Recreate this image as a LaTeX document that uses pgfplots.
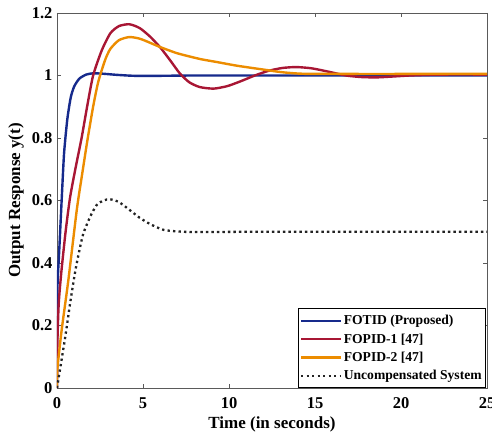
\documentclass[border=0pt]{standalone}
\usepackage{fontspec}
\setmainfont{Liberation Serif}
\usepackage{pgfplots}
\pgfplotsset{compat=1.18}
\definecolor{cblue}{RGB}{22,42,140}
\definecolor{cred}{RGB}{168,22,52}
\definecolor{corange}{RGB}{236,140,0}
\definecolor{cdot}{RGB}{35,35,35}
\definecolor{caxis}{RGB}{90,90,90}
\begin{document}
\begin{tikzpicture}
\begin{axis}[
  scale only axis, width=430pt, height=375pt,
  at={(0,0)}, anchor=south west,
  xmin=0, xmax=25, ymin=0, ymax=1.2,
  xtick={0,5,10,15,20,25},
  ytick={0,0.2,0.4,0.6,0.8,1,1.2},
  yticklabels={0,0.2,0.4,0.6,0.8,1,1.2},
  xticklabels={0,5,10,15,20,25},
  tick align=inside, tick pos=both,
  major tick length=4pt,
  axis line style={caxis, line width=0.7pt},
  every tick/.style={caxis, line width=0.7pt},
  ticklabel style={font=\fontsize{16.5}{18}\selectfont\bfseries},
  /pgf/number format/assume math mode=true,
  xticklabel style={yshift=-6pt},
  yticklabel style={xshift=-1pt},
  xlabel={Time (in seconds)}, ylabel={Output Response y(t)},
  label style={font=\fontsize{17}{19}\selectfont\bfseries},
  xlabel style={at={(axis description cs:0.5,0)}, anchor=center, yshift=-36pt},
  ylabel style={at={(axis description cs:-0.0953,0.5)}, anchor=center},
  legend cell align=left,
  legend style={at={(1,0)}, anchor=south east, xshift=-1.5pt,
    draw=black, line width=0.6pt, font=\fontsize{13.6}{15}\selectfont\bfseries,
    row sep=3.4pt, inner xsep=2pt, inner ysep=4.5pt,
    nodes={inner xsep=1.5pt}},
  legend image code/.code={\draw[#1] (0pt,0pt) -- (40pt,0pt);},
]
\addplot[cblue, line width=2.4pt, smooth, tension=0.4] coordinates {
(0,0)(0.005,0.2)(0.03,0.33)(0.13,0.44)(0.27,0.6)(0.41,0.75)(0.6,0.86)(0.8,0.93)(1.0,0.965)(1.3,0.99)(1.7,1.003)(2.1,1.007)(2.6,1.006)(3.5,1.002)(4.5,0.999)(6,0.999)(8,1.0)(12,1.0)(25,1.0)};
\addlegendentry{FOTID (Proposed)}
\addplot[cred, line width=2.4pt, smooth, tension=0.4] coordinates {
(0,0)(0.02,0.14)(0.1,0.27)(0.25,0.37)(0.5,0.5)(0.76,0.61)(1.1,0.71)(1.43,0.8)(1.75,0.9)(2.1,1.0)(2.6,1.08)(3.1,1.135)(3.6,1.158)(4.2,1.164)(4.8,1.152)(5.4,1.125)(6,1.09)(6.6,1.047)(7.15,1.006)(7.7,0.978)(8.3,0.963)(9.1,0.958)(9.9,0.966)(10.7,0.982)(11.5,1.0)(12.3,1.015)(13.1,1.024)(13.9,1.027)(14.8,1.023)(15.8,1.012)(16.8,1.0)(17.7,0.995)(18.6,0.994)(19.6,0.997)(20.5,1.0)(21.5,1.002)(22.5,1.003)(25,1.003)};
\addlegendentry{FOPID-1 [47]}
\addplot[corange, line width=2.4pt, smooth, tension=0.4] coordinates {
(0,0)(0.02,0.06)(0.27,0.185)(0.66,0.345)(1.15,0.57)(1.45,0.68)(1.76,0.79)(2.1,0.9)(2.4,0.98)(2.8,1.05)(3.1,1.085)(3.6,1.113)(4.2,1.123)(4.8,1.118)(5.4,1.105)(6,1.091)(7,1.071)(8.3,1.053)(9.3,1.043)(10.5,1.031)(12,1.019)(13,1.011)(14.1,1.006)(15.5,1.005)(25,1.005)};
\addlegendentry{FOPID-2 [47]}
\addplot[cdot, line width=2.3pt, dash pattern=on 2.3pt off 3.2pt, smooth, tension=0.4] coordinates {
(0,0)(0.47,0.16)(0.76,0.27)(1.05,0.37)(1.3,0.44)(1.53,0.494)(1.92,0.547)(2.3,0.585)(2.7,0.6)(3.08,0.604)(3.6,0.595)(4.24,0.569)(4.8,0.545)(5.4,0.525)(6.2,0.506)(7.3,0.5)(8.5,0.499)(12,0.5)(25,0.5)};
\addlegendentry{Uncompensated System}
\end{axis}
\pgfresetboundingbox
\path[use as bounding box] (-57pt,-46pt) rectangle (435pt,388pt);
\end{tikzpicture}
\end{document}
